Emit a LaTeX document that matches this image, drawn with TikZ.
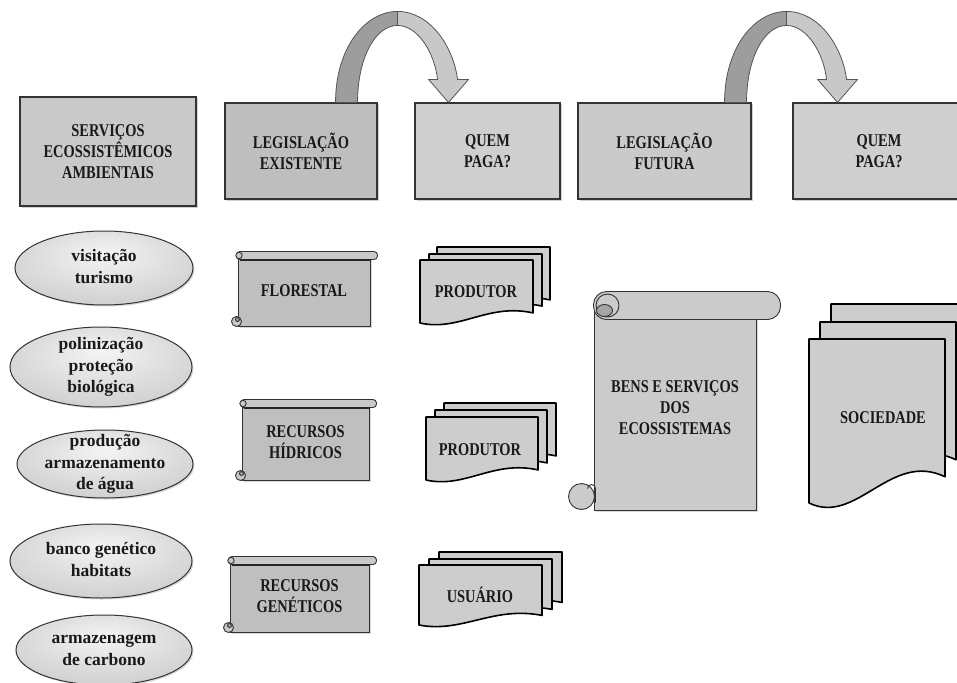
\documentclass[tikz,border=0pt]{standalone}
\usepackage{fontspec}
\setmainfont{Liberation Serif}
\newfontfamily\capsf{Liberation Serif}[FakeStretch=0.8]
\usetikzlibrary{shapes.geometric,shadows,calc}
\definecolor{edgec}{HTML}{333333}
\definecolor{servfill}{HTML}{C9C9C9}
\definecolor{legafill}{HTML}{BEBEBE}
\definecolor{quemfill}{HTML}{CFCFCF}
\definecolor{legbfill}{HTML}{CACACA}
\definecolor{ovalin}{HTML}{F4F4F4}
\definecolor{ovalmid}{HTML}{DADADA}
\definecolor{ovalmidb}{HTML}{C6C6C6}
\definecolor{ovalout}{HTML}{8E8E8E}
\definecolor{scrollfill}{HTML}{BFBFBF}
\definecolor{rollfill}{HTML}{C9C9C9}
\definecolor{bensfill}{HTML}{CBCBCB}
\definecolor{curlfill}{HTML}{A5A5A5}
\definecolor{docfill}{HTML}{CDCDCD}
\definecolor{arrdark}{HTML}{9D9D9D}
\definecolor{arrlight}{HTML}{C8C8C8}
\definecolor{arrline}{HTML}{555555}
\pgfdeclareradialshading{ovalshade}{\pgfpoint{0bp}{10bp}}{color(0bp)=(ovalin); color(22bp)=(ovalmid); color(40bp)=(ovalmidb); color(50bp)=(ovalout); color(70bp)=(ovalout)}
\tikzset{
  capsfont/.style={font=\capsf\bfseries\fontsize{18}{21}\selectfont, text=black!90},
  box/.style={rectangle, draw=edgec, line width=1.1pt, fill=#1, capsfont, align=center, inner sep=0pt,
    drop shadow={opacity=0.35, shadow xshift=1.5pt, shadow yshift=-1.5pt}},
  oval/.style={ellipse, draw=edgec, line width=1pt, inner sep=0pt, shading=ovalshade,
    font=\bfseries\fontsize{17.5}{21.5}\selectfont, text=black!90,
    drop shadow={opacity=0.3, shadow xshift=1.5pt, shadow yshift=-1.5pt}},
  scrollbody/.style={rectangle, draw=edgec, line width=1pt, fill=#1, capsfont, align=center, inner sep=0pt,
    drop shadow={opacity=0.3, shadow xshift=1.5pt, shadow yshift=-1.5pt}},
  rollst/.style={draw=edgec, line width=0.9pt, fill=#1},
  docst/.style={draw=black, line width=1.6pt, fill=docfill, line join=round},
  doctext/.style={capsfont, inner sep=0pt, align=center},
  curvarrow/.pic={
    \filldraw[fill=arrdark, draw=arrline, line width=0.8pt, line join=round]
      (0,0) .. controls (0,-55) and (30,-91) .. (62,-91) -- (62,-77)
      .. controls (40,-77) and (22,-45) .. (22,0) -- cycle;
    \filldraw[fill=arrlight, draw=arrline, line width=0.8pt, line join=round]
      (62,-91) .. controls (95,-91) and (118,-55) .. (122,-23) -- (133,-23) -- (113,0)
      -- (93,-23) -- (102,-23) .. controls (99,-50) and (82,-77) .. (62,-77) -- cycle;
  }
}
\newcommand\ovaltext[1]{\makebox[0pt]{\smash{\raisebox{-4.5pt}{\begin{tabular}{@{}c@{}}#1\end{tabular}}}}}
\newcommand\docshape[4]{%
  \filldraw[docst] (#1,#2) -- ({#1+#3},#2) -- ({#1+#3},{#2+0.84*#4})
    .. controls ({#1+0.6*#3},{#2+0.68*#4}) and ({#1+0.35*#3},{#2+1.14*#4}) .. (#1,{#2+#4}) -- cycle;}
\newcommand\hscrolldeco[1]{%
  \filldraw[rollst=rollfill, rounded corners=3.5pt] ($(#1.north west)+(-1,-4)$) rectangle ($(#1.north east)+(7,4)$);
  \draw[black!85, line width=1.4pt] ($(#1.north west)+(2,4.5)$) -- ($(#1.north east)+(0,4.5)$);
  \filldraw[rollst=rollfill] ($(#1.north west)+(1.5,0)$) circle (3.2);
  \filldraw[rollst=rollfill] ($(#1.south west)+(-1,-5)$) circle (5);
  \filldraw[rollst=curlfill] ($(#1.south west)+(0,-7)$) circle (2);}
\begin{document}
\begin{tikzpicture}[x=1pt,y=-1pt]
\clip (0,0) rectangle (957,682);
\fill[white] (0,0) rectangle (957,682);

% top row boxes
\node[box=servfill, minimum width=176, minimum height=109] (serv) at (108,151.5) {SERVIÇOS\\ECOSSISTÊMICOS\\AMBIENTAIS};
\node[box=legafill, minimum width=152, minimum height=96] (leg1) at (301,151) {LEGISLAÇÃO\\EXISTENTE};
\node[box=quemfill, minimum width=145, minimum height=96] (quem1) at (487.5,151) {QUEM\\PAGA?};
\node[box=legbfill, minimum width=173, minimum height=96] (leg2) at (664.5,151) {LEGISLAÇÃO\\FUTURA};
\node[box=quemfill, minimum width=172, minimum height=96] (quem2) at (879,151) {QUEM\\PAGA?};

% curved block arrows
\pic at ($(leg1.north east)+(-42,0)$) {curvarrow};
\pic at ($(leg2.north east)+(-27,0)$) {curvarrow};

% ellipses
\node[oval, minimum width=178, minimum height=74] (e1) at (104,268) {\ovaltext{visitação\\turismo}};
\node[oval, minimum width=182, minimum height=80] (e2) at (101,367) {\ovaltext{polinização\\proteção\\biológica}};
\node[oval, minimum width=176, minimum height=68] (e3) at (105,464) {\ovaltext{produção\\armazenamento\\de água}};
\node[oval, minimum width=182, minimum height=74] (e4) at (101,561) {\ovaltext{banco genético\\habitats}};
\node[oval, minimum width=176, minimum height=70] (e5) at (104,650) {\ovaltext{armazenagem\\de carbono}};

% horizontal scrolls
\node[scrollbody=scrollfill, minimum width=132, minimum height=70] (flo) at (304,291) {FLORESTAL};
\hscrolldeco{flo}
\node[scrollbody=scrollfill, minimum width=127, minimum height=76] (hid) at (305.5,442) {RECURSOS\\HÍDRICOS};
\hscrolldeco{hid}
\node[scrollbody=scrollfill, minimum width=139, minimum height=71] (gen) at (299.5,596.5) {RECURSOS\\GENÉTICOS};
\hscrolldeco{gen}

% multi documents
\docshape{437}{247}{113}{63}
\docshape{429}{254}{113}{62}
\docshape{420}{260}{113}{63}
\node[doctext] (prod1) at (476,292) {PRODUTOR};

\docshape{444}{403}{112}{63}
\docshape{435}{410}{112}{63}
\docshape{426}{417}{112}{63}
\node[doctext] (prod2) at (480,450) {PRODUTOR};

\docshape{439}{552}{123}{60}
\docshape{429}{559}{123}{60}
\docshape{419}{565}{123}{60}
\node[doctext] (usu) at (480,595) {USUÁRIO};

\docshape{831}{304}{136}{164}
\docshape{820}{322}{136}{164}
\docshape{809}{339}{136}{164}
\node[doctext] (soc) at (883,418) {SOCIEDADE};

% vertical scroll
\node[scrollbody=bensfill, minimum width=162, minimum height=204] (bens) at (675,408) {BENS E SERVIÇOS\\DOS\\ECOSSISTEMAS};
\filldraw[rollst=bensfill, rounded corners=13pt] ($(bens.north west)+(0,-14)$) rectangle ($(bens.north east)+(24,14)$);
\draw[edgec, line width=0.9pt] ($(bens.north west)+(14,0)$) circle (11.5);
\filldraw[rollst=curlfill] ($(bens.north west)+(11,5)$) ellipse (8 and 6);
\filldraw[rollst=bensfill] ($(bens.south west)+(-12,-14)$) circle (13);
\draw[edgec, line width=0.9pt] ($(bens.south west)+(-6,-22)$) arc (180:360:4) -- ++(0,14);
\end{tikzpicture}
\end{document}
